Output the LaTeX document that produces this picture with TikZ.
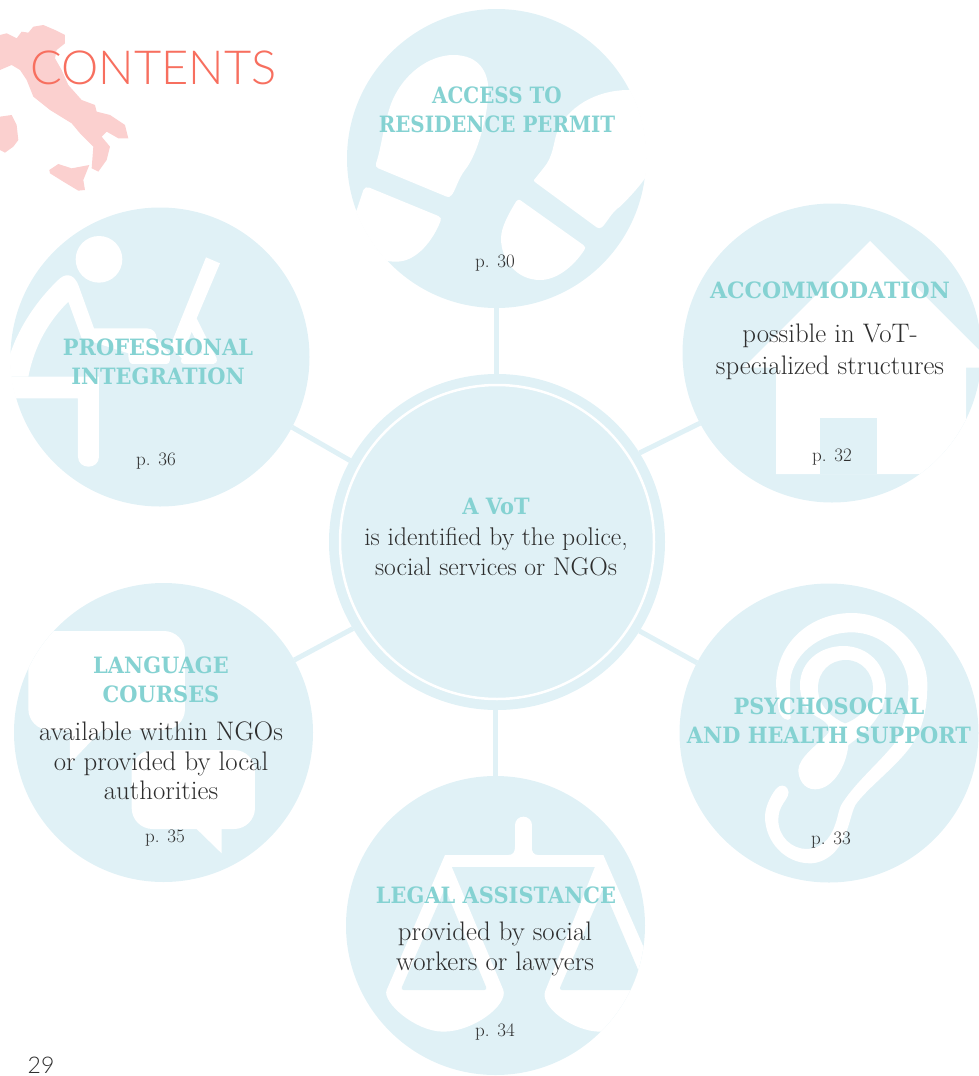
\documentclass[tikz,border=0pt]{standalone}
\usepackage{fontspec}
\newfontfamily\headfont[FakeStretch=0.93]{DejaVu Serif}
\newfontfamily\titlefont{Lato Light}
\definecolor{disccol}{HTML}{E0F1F6}
\definecolor{headcol}{HTML}{85D2D2}
\definecolor{bodycol}{HTML}{2E2E2E}
\definecolor{titlecol}{HTML}{F76F5F}
\definecolor{mapcol}{HTML}{FBD0CF}
\tikzset{
  disc/.style={circle, fill=disccol, inner sep=0pt, outer sep=0pt, minimum size=#1pt},
  link/.style={draw=disccol, line width=5pt},
  head/.style={text=headcol, align=center, inner sep=0pt, font=\headfont\bfseries\fontsize{22.5}{29}\selectfont},
  body/.style={text=bodycol, align=center, inner sep=0pt, font=\fontsize{26.8}{29.5}\selectfont},
  pagenum/.style={text=bodycol, inner sep=0pt, font=\fontsize{19}{22}\selectfont},
  icon/.style 2 args={xshift=#1pt, yshift=-#2pt, x=0.33333pt, y=-0.33333pt},
}
\begin{document}
\begin{tikzpicture}[x=1pt, y=-1pt]
  \useasboundingbox (0,0) rectangle (978,1076);
  % italy behind the title
  \begin{scope}[icon={0}{0}, fill=mapcol]
    \fill (0,105) -- (20,100) -- (50,115) -- (65,95) -- (85,98) -- (100,80) -- (130,75) -- (165,90) -- (195,105) -- (195,130) -- (170,150) -- (165,175) -- (185,210) -- (205,255) -- (245,300) -- (285,315) -- (290,335) -- (330,345) -- (375,375) -- (385,415) -- (355,415) -- (320,395) -- (305,410) -- (330,440) -- (320,480) -- (295,515) -- (275,505) -- (280,440) -- (240,400) -- (215,370) -- (150,330) -- (100,290) -- (80,240) -- (60,210) -- (35,195) -- (0,210) -- cycle;
    \fill (0,350) -- (35,345) -- (50,375) -- (55,420) -- (40,440) -- (15,458) -- (0,450) -- cycle;
    \fill (148,510) -- (175,492) -- (215,505) -- (268,495) -- (250,540) -- (255,570) -- (235,572) -- (190,545) -- (150,520) -- cycle;
  \end{scope}
  \node[text=titlecol, inner sep=0pt, font=\titlefont\fontsize{47}{47}\selectfont] (contents) at (153.5,68) {CONTENTS};

  % discs
  \node[disc=336] (vot) at (497,542) {};
  \node[disc=299] (access) at (496.5,158.5) {};
  \node[disc=299] (accommodation) at (832,353) {};
  \node[disc=299] (psycho) at (829,733) {};
  \node[disc=299] (legal) at (495.5,925.5) {};
  \node[disc=299] (language) at (163.5,732.5) {};
  \node[disc=299] (professional) at (160,357) {};
  \node[circle, draw=white, line width=2.5pt, inner sep=0pt, minimum size=314pt] (votring) at (vot.center) {};
  \foreach \a/\b/\c in {32/accommodation/208, -32/psycho/152, 211/language/29, 151/professional/-28}
    \draw[link] (vot.\a) -- (\b.\c);
  \draw[link] (access.south) -- (access.south |- vot.north);
  \draw[link] (legal.north) -- (legal.north |- vot.south);

  % footprints
  \begin{scope}[icon={340}{0}]
    \clip (access.center) circle [radius=450];
    \fill[white] (108,490) .. controls (125,440) and (125,400) .. (150,320) .. controls (185,220) and (270,165) .. (340,165) .. controls (420,165) and (445,220) .. (445,270) .. controls (445,340) and (415,460) .. (375,510) .. controls (355,535) and (345,575) .. (335,585) .. controls (330,592) and (325,592) .. (320,590) -- (115,505) .. controls (108,502) and (106,497) .. (108,490) -- cycle;
    \fill[white] (70,570) .. controls (75,562) and (80,560) .. (88,563) -- (295,648) .. controls (303,652) and (304,657) .. (302,662) .. controls (280,720) and (230,785) .. (170,785) .. controls (140,785) and (120,780) .. (100,770) -- (30,660) -- (50,630) -- cycle;
    \fill[white] (582,540) -- (610,505) .. controls (640,470) and (640,430) .. (650,400) .. controls (680,320) and (770,270) .. (865,270) -- (1000,270) -- (1000,500) -- (915,535) .. controls (890,570) and (860,600) .. (840,620) .. controls (815,635) and (800,670) .. (785,682) .. controls (780,686) and (775,685) .. (770,682) -- (590,550) .. controls (583,546) and (582,543) .. (582,540) -- cycle;
    \fill[white] (540,600) -- (730,735) .. controls (737,740) and (737,745) .. (733,750) .. controls (700,800) and (650,840) .. (600,840) .. controls (530,840) and (483,780) .. (483,715) .. controls (483,680) and (510,635) .. (528,605) .. controls (531,600) and (536,598) .. (540,600) -- cycle;
  \end{scope}

  % house
  \begin{scope}[icon={670}{195}]
    \clip (accommodation.center) circle [radius=448.5];
    \fill[white] (600,138) -- (980,518) -- (888,518) -- (888,837) -- (318,837) -- (318,518) -- (220,518) -- cycle;
    \fill[disccol] (450,670) rectangle (620,837);
  \end{scope}

  % ear
  \begin{scope}[icon={670}{575}]
    \fill[white] (318,330) .. controls (318,205) and (420,114) .. (545,114) .. controls (670,114) and (772,220) .. (772,330) .. controls (772,410) and (755,465) .. (725,510) .. controls (680,575) and (590,640) .. (556,690) .. controls (540,720) and (535,790) .. (490,835) .. controls (465,858) and (440,865) .. (420,865) .. controls (345,865) and (285,800) .. (285,725) .. controls (285,690) and (310,650) .. (320,640) .. controls (330,628) and (345,630) .. (352,640) .. controls (362,655) and (350,670) .. (340,685) .. controls (330,700) and (325,715) .. (325,735) .. controls (325,785) and (365,822) .. (410,822) .. controls (450,822) and (480,795) .. (495,750) .. controls (505,725) and (505,700) .. (520,680) .. controls (560,620) and (620,570) .. (670,510) .. controls (700,465) and (715,400) .. (715,335) .. controls (715,250) and (640,172) .. (545,172) .. controls (445,172) and (360,245) .. (360,330) .. controls (360,370) and (360,410) .. (362,430) .. controls (355,442) and (330,430) .. (325,400) -- cycle;
    \fill[white] (390,330) .. controls (390,260) and (450,213) .. (520,213) .. controls (595,213) and (648,270) .. (648,340) .. controls (648,420) and (590,470) .. (535,510) .. controls (530,570) and (490,643) .. (435,643) .. controls (400,643) and (385,610) .. (385,585) .. controls (385,550) and (440,510) .. (470,480) .. controls (490,460) and (470,440) .. (440,425) .. controls (405,405) and (390,370) .. (390,330) -- cycle;
    \fill[disccol] (444,340) .. controls (444,290) and (480,255) .. (528,255) .. controls (575,255) and (609,295) .. (609,340) .. controls (609,385) and (570,430) .. (525,445) .. controls (490,430) and (444,395) .. (444,340) -- cycle;
  \end{scope}

  % scales
  \begin{scope}[icon={340}{770}]
    \clip (legal.center) circle [radius=448.5];
    \draw[white, line width=16.7pt, line cap=round] (550,165) -- (550,265);
    \fill[white] (505,255) .. controls (520,255) and (525,245) .. (525,230) -- (575,230) .. controls (575,245) and (580,255) .. (595,255) -- cycle;
    \fill[white] (315,255) rectangle (790,290);
    \fill[white] (315,255) -- (140,660) .. controls (125,695) and (225,785) .. (310,785) .. controls (400,785) and (505,705) .. (490,660) -- (335,290) -- cycle;
    \fill[white] (790,255) -- (1000,735) -- (780,785) .. controls (700,785) and (600,710) .. (615,665) -- (765,290) -- cycle;
    \fill[disccol, rounded corners=3pt] (315,355) -- (182,660) -- (442,660) -- cycle;
    \fill[disccol, rounded corners=3pt] (790,355) -- (657,660) -- (920,660) -- cycle;
  \end{scope}

  % speech bubbles
  \begin{scope}[icon={0}{575}]
    \clip (language.center) circle [radius=448.5];
    \fill[white, rounded corners=21pt] (85,168) rectangle (555,465);
    \fill[white] (210,440) -- (210,565) -- (310,460) -- cycle;
    \fill[white, rounded corners=21pt] (395,525) rectangle (765,762);
    \fill[white] (590,750) -- (590,762) -- (665,835) -- (665,750) -- cycle;
  \end{scope}

  % person at a laptop
  \begin{scope}[icon={0}{0}]
    \clip (professional.center) circle [radius=450];
    \fill[white] (297,778) circle [radius=70];
    \fill[white] (25,1130) -- (25,1080) .. controls (50,990) and (110,900) .. (180,835) .. controls (205,815) and (225,830) .. (235,855) -- (282,985) -- (440,985) .. controls (460,985) and (470,1000) .. (470,1015) -- (510,1065) -- (510,1080) .. controls (510,1088) and (505,1092) .. (495,1092) -- (400,1092) .. controls (390,1092) and (385,1085) .. (385,1060) -- (245,1015) -- (205,905) .. controls (150,960) and (105,1030) .. (85,1130) -- cycle;
    \fill[white] (0,1130) -- (297,1130) -- (297,1370) .. controls (297,1410) and (234,1410) .. (234,1370) -- (234,1195) -- (0,1195) -- cycle;
    \fill[white, even odd rule] (618,772) -- (660,790) -- (590,955) -- (650,1075) .. controls (652,1085) and (648,1092) .. (640,1092) -- (555,1092) .. controls (545,1092) and (540,1085) .. (545,1075) -- (510,1040) -- cycle (575,995) -- (608,1060) -- (550,1060) -- cycle;
  \end{scope}

  % labels
  \node[head] (votname) at (496,506) {A VoT};
  \node[body, font=\fontsize{25.6}{29.5}\selectfont] (vottext) at (496,551.5) {is identified by the police,\\social services or NGOs};
  \node[head, xscale=0.95, transform shape] (accessname) at (497,109.5) {ACCESS TO\\RESIDENCE PERMIT};
  \node[pagenum] (accesspage) at (495,263) {p. 30};
  \node[head, xscale=1.05, transform shape] (accomname) at (830,290) {ACCOMMODATION};
  \node[body] (accomtext) at (830,352) {possible in VoT-\\[2pt]specialized structures};
  \node[pagenum] (accompage) at (832,457) {p. 32};
  \node[head] (psychoname) at (829,720.5) {PSYCHOSOCIAL\\AND HEALTH SUPPORT};
  \node[pagenum] (psychopage) at (831,840) {p. 33};
  \node[head] (legalname) at (496,895) {LEGAL ASSISTANCE};
  \node[body] (legaltext) at (495,949) {provided by social\\workers or lawyers};
  \node[pagenum] (legalpage) at (495,1032) {p. 34};
  \node[head] (languagename) at (161,679.5) {LANGUAGE\\COURSES};
  \node[body] (languagetext) at (161,761) {available within NGOs\\or provided by local\\authorities};
  \node[pagenum] (languagepage) at (165,838) {p. 35};
  \node[head] (professionalname) at (158,361.5) {PROFESSIONAL\\INTEGRATION};
  \node[pagenum] (professionalpage) at (156,461) {p. 36};
  \node[text=bodycol, inner sep=0pt, font=\titlefont\fontsize{23}{23}\selectfont] (folio) at (41,1065) {29};
\end{tikzpicture}
\end{document}
